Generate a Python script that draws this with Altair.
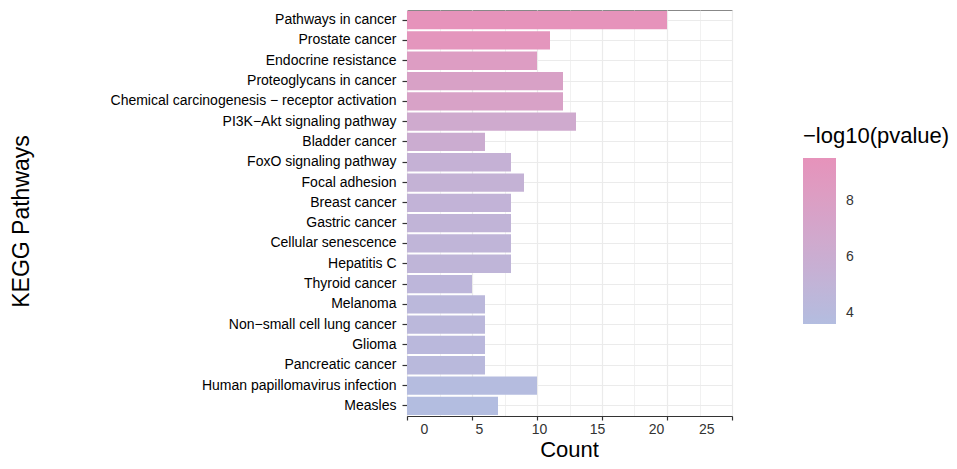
import altair as alt
import pandas as pd

M = "\u2212"
pathways = [
    "Pathways in cancer",
    "Prostate cancer",
    "Endocrine resistance",
    "Proteoglycans in cancer",
    f"Chemical carcinogenesis {M} receptor activation",
    f"PI3K{M}Akt signaling pathway",
    "Bladder cancer",
    "FoxO signaling pathway",
    "Focal adhesion",
    "Breast cancer",
    "Gastric cancer",
    "Cellular senescence",
    "Hepatitis C",
    "Thyroid cancer",
    "Melanoma",
    f"Non{M}small cell lung cancer",
    "Glioma",
    "Pancreatic cancer",
    "Human papillomavirus infection",
    "Measles",
]
counts = [20, 11, 10, 12, 12, 13, 6, 8, 9, 8, 8, 8, 8, 5, 6, 6, 6, 6, 10, 7]
neglog10p = [9.55, 9.2, 8.3, 7.7, 7.6, 6.5, 6.1, 5.4, 5.3, 5.1, 5.0, 4.9, 4.8,
             4.6, 4.4, 4.35, 4.3, 4.2, 3.8, 3.6]

x_grid_values = [0, 2.5, 5, 7.5, 10, 12.5, 15, 17.5, 20, 22.5, 25]
legend_values = [4, 6, 8]
color_range = ["#B3BDE0", "#E693BB"]

df = pd.DataFrame({"pathway": pathways, "count": counts, "p": neglog10p})

FONT = "Liberation Sans"

label_offsets = {0: 13, 5: 7, 10: 2, 15: -5, 20: -11, 25: -18}
offset_cond = {
    "condition": [{"test": f"datum.value == {k}", "value": v} for k, v in label_offsets.items()],
    "value": 0,
}

chart = (
    alt.Chart(df)
    .mark_bar()
    .encode(
        x=alt.X(
            "count:Q",
            title="Count",
            scale=alt.Scale(domain=[0, 25], nice=False, zero=True),
            axis=alt.Axis(
                values=x_grid_values,
                labelExpr="datum.value % 5 == 0 ? datum.label : ''",
                tickOpacity={"condition": {"test": "datum.value % 5 != 0", "value": 0}, "value": 1},
                gridWidth={"condition": {"test": "datum.value % 5 == 0", "value": 1.2}, "value": 0.7},
                labelOffset=offset_cond,
                grid=True,
                gridColor="#EBEBEB",
                domain=True,
                domainColor="#333333",
                domainWidth=1.2,
                tickColor="#333333",
                tickWidth=1.2,
                tickSize=4,
                labelPadding=2,
                labelFontSize=14,
                labelColor="#333333",
                labelFont=FONT,
                titleFont=FONT,
                titleFontSize=22,
                titleFontWeight="normal",
                titleColor="black",
                titleBaseline="alphabetic",
                titleY=40,
                titleX=162,
            ),
        ),
        y=alt.Y(
            "pathway:N",
            sort=pathways,
            title="KEGG Pathways",
            scale=alt.Scale(paddingInner=0.1, paddingOuter=0.05),
            axis=alt.Axis(
                grid=True,
                gridColor="#EBEBEB",
                gridWidth=1.2,
                bandPosition=0.5,
                domain=False,
                tickColor="#333333",
                tickWidth=1.2,
                tickSize=5,
                labelPadding=6,
                labelFontSize=14,
                labelColor="black",
                labelFont=FONT,
                labelLimit=400,
                titleFont=FONT,
                titleFontSize=23,
                titleFontWeight="normal",
                titleColor="black",
                titleX=-374,
                titleY=211,
            ),
        ),
        color=alt.Color(
            "p:Q",
            title=f"{M}log10(pvalue)",
            scale=alt.Scale(domain=[3.6, 9.55], range=color_range, interpolate="lab", nice=False),
            legend=alt.Legend(
                type="gradient",
                direction="vertical",
                orient="none",
                legendX=396,
                legendY=116,
                values=legend_values,
                gradientLength=166,
                gradientThickness=33,
                gradientStrokeWidth=0,
                titleFont=FONT,
                titleFontSize=22,
                titleFontWeight="normal",
                titleColor="black",
                titlePadding=10,
                titleLimit=300,
                labelFont=FONT,
                labelFontSize=14,
                labelColor="#333333",
                labelOffset=10,
            ),
        ),
    )
    .properties(
        width=325,
        height=406,
        autosize=alt.AutoSizeParams(type="none"),
        padding={"left": 399, "top": 2, "right": 217, "bottom": 45},
        background="white",
    )
    .configure_view(stroke="#888888", strokeWidth=1)
)

chart.save("out.html", embed_options={"renderer": "svg", "actions": False})
